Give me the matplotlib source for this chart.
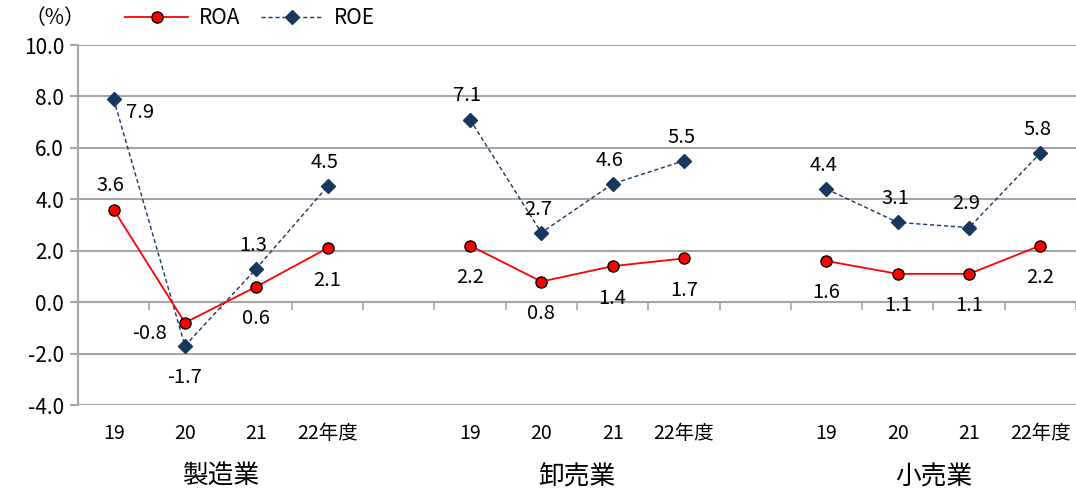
import numpy as np
import matplotlib
matplotlib.use("Agg")
import matplotlib.pyplot as plt

plt.rcParams['font.family'] = ['Noto Sans CJK JP', 'DejaVu Sans']

# データ
groups = ["製造業", "卸売業", "小売業"]
years = ["19", "20", "21", "22年度"]
roa = [[3.6, -0.8, 0.6, 2.1],
       [2.2, 0.8, 1.4, 1.7],
       [1.6, 1.1, 1.1, 2.2]]
roe = [[7.9, -1.7, 1.3, 4.5],
       [7.1, 2.7, 4.6, 5.5],
       [4.4, 3.1, 2.9, 5.8]]
# ラベルの位置
roa_pos = [["above", "left", "below", "below"],
           ["below", "below", "below", "below"],
           ["below", "below", "below", "below"]]
roe_pos = [["right", "below", "above", "above"],
           ["above", "above", "above", "above"],
           ["above", "above", "above", "above"]]

red = "#FF0000"
navy = "#17375E"
grid_c = "#A6A6A6"

fig = plt.figure(figsize=(10.76, 4.88), dpi=100)
ax = fig.add_axes([78 / 1076, 1 - 405 / 488, 1 - 78 / 1076, 360 / 488])

offsets = {"above": (-2, 17, "center", "center"),
           "below": (0, -23, "center", "center"),
           "left": (-13, -8, "right", "center"),
           "right": (9, -10, "left", "center")}

def label(x, y, pos):
    dx, dy, ha, va = offsets[pos]
    ax.annotate(f"{y:.1f}", (x, y), xytext=(dx, dy), textcoords="offset points",
                ha=ha, va=va, fontsize=14.5, color="black")

step = len(years) + 1
for g in range(len(groups)):
    xs = np.arange(len(years)) + g * step
    ax.plot(xs, roe[g], color=navy, lw=1.0, ls=(0, (3, 2)), marker="D", ms=7,
            mfc=navy, mec=navy, zorder=3, label="ROE" if g == 0 else None)
    ax.plot(xs, roa[g], color=red, lw=1.3, marker="o", ms=8,
            mfc=red, mec="black", mew=1.0, zorder=4, label="ROA" if g == 0 else None)
    for i, x in enumerate(xs):
        label(x, roa[g][i], roa_pos[g][i])
        label(x, roe[g][i], roe_pos[g][i])
    for i, x in enumerate(xs):
        ax.text(x, -0.078, years[i], transform=ax.get_xaxis_transform(),
                ha="center", va="center", fontsize=14)
    ax.text(xs.mean(), -0.2, groups[g], transform=ax.get_xaxis_transform(),
            ha="center", va="center", fontsize=18.5)

ax.set_xlim(-0.5, len(groups) * step - 1.5)
ax.set_ylim(-4, 10)
ax.set_yticks(np.arange(-4, 10.1, 2))
ax.set_yticklabels([f"{v:.1f}" for v in np.arange(-4, 10.1, 2)], fontsize=15)
ax.yaxis.grid(True, color=grid_c, lw=1.5)
ax.set_axisbelow(True)

ax.spines['top'].set_visible(False)
ax.spines['right'].set_visible(False)
ax.spines['left'].set_color(grid_c)
ax.spines['left'].set_linewidth(1.5)
ax.spines['bottom'].set_position(('data', 0))
ax.spines['bottom'].set_color(grid_c)
ax.spines['bottom'].set_linewidth(1.5)
ax.set_xticks(np.arange(-0.5, len(groups) * step - 1, 1))
ax.set_xticklabels([])
ax.tick_params(axis='x', length=6, width=1.2, color=grid_c, direction='out')
ax.tick_params(axis='y', length=6, width=1.5, color=grid_c, pad=4)

handles, labels = ax.get_legend_handles_labels()
order = [labels.index("ROA"), labels.index("ROE")]
fig.legend([handles[i] for i in order], [labels[i] for i in order],
           loc="center", bbox_to_anchor=(250 / 1076, 1 - 18 / 488), ncol=2,
           frameon=False, fontsize=15, handlelength=3.0, handletextpad=0.5,
           columnspacing=1.0)
fig.text(55 / 1076, 1 - 18 / 488, "（%）", ha="center", va="center", fontsize=15)

fig.savefig("out.png", dpi=100)
